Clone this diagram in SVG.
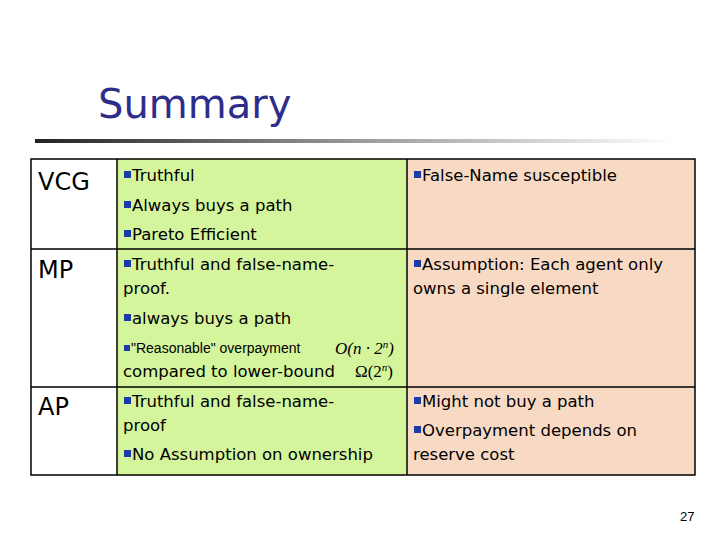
<svg xmlns="http://www.w3.org/2000/svg" width="720" height="540" viewBox="0 0 720 540">
<defs>
<linearGradient id="rule" x1="0" x2="1" y1="0" y2="0"><stop offset="0" stop-color="#222"/><stop offset="0.5" stop-color="#999"/><stop offset="1" stop-color="#fff"/></linearGradient>
</defs>
<style>
text{font-family:"DejaVu Sans",Verdana,sans-serif;font-size:16.5px;fill:#000}
.lab{font-size:24px}
.b{fill:#1a3ba8}
.m{font-family:"Liberation Serif",serif;font-style:italic;font-size:17px}
.g{fill:#d4f59c}.p{fill:#f8dac4}
.ln{stroke:#000;stroke-width:1.5;fill:none}
</style>
<rect width="720" height="540" fill="#fff"/>
<text x="98" y="118" style="font-size:40px;fill:#2e2e8a">Summary</text>
<rect x="35" y="139" width="640" height="4" fill="url(#rule)"/>
<g id="cells">
<rect class="g" x="117" y="159" width="290" height="316"/>
<rect class="p" x="407" y="159" width="288" height="316"/>
</g>
<g id="grid">
<rect class="ln" x="31" y="159" width="664" height="316"/>
<line class="ln" x1="117" y1="159" x2="117" y2="475"/>
<line class="ln" x1="407" y1="159" x2="407" y2="475"/>
<line class="ln" x1="31" y1="249" x2="695" y2="249"/>
<line class="ln" x1="31" y1="387" x2="695" y2="387"/>
</g>
<g id="vcg">
<text class="lab" x="38" y="190">VCG</text>
<rect class="b" x="124" y="171" width="7" height="7"/><text x="132" y="181">Truthful</text>
<rect class="b" x="124" y="201" width="7" height="7"/><text x="132" y="211">Always buys a path</text>
<rect class="b" x="124" y="230" width="7" height="7"/><text x="132" y="240">Pareto Efficient</text>
<rect class="b" x="414" y="171" width="7" height="7"/><text x="422" y="181">False-Name susceptible</text>
</g>
<g id="mp">
<text class="lab" x="38" y="278">MP</text>
<rect class="b" x="124" y="260" width="7" height="7"/><text x="132" y="270">Truthful and false-name-</text>
<text x="123" y="294">proof.</text>
<rect class="b" x="124" y="314" width="7" height="7"/><text x="132" y="324">always buys a path</text>
<rect class="b" x="124" y="345" width="6" height="6"/><text x="131" y="353" style="font-family:'Liberation Sans',Arial,sans-serif;font-size:14px">"Reasonable" overpayment</text>
<text class="m" x="335" y="354">O(n · 2<tspan dy="-6" font-size="11">n</tspan><tspan dy="6">)</tspan></text>
<text x="123" y="377">compared to lower-bound</text>
<text x="355" y="377" style="font-family:'Liberation Serif',serif;font-size:17px">Ω(2<tspan dy="-6" font-size="11" font-style="italic">n</tspan><tspan dy="6">)</tspan></text>
<rect class="b" x="414" y="260" width="7" height="7"/><text x="422" y="270">Assumption: Each agent only</text>
<text x="413" y="294">owns a single element</text>
</g>
<g id="ap">
<text class="lab" x="38" y="415">AP</text>
<rect class="b" x="124" y="397" width="7" height="7"/><text x="132" y="407">Truthful and false-name-</text>
<text x="123" y="431">proof</text>
<rect class="b" x="124" y="450" width="7" height="7"/><text x="132" y="460">No Assumption on ownership</text>
<rect class="b" x="414" y="397" width="7" height="7"/><text x="422" y="407">Might not buy a path</text>
<rect class="b" x="414" y="426" width="7" height="7"/><text x="422" y="436">Overpayment depends on</text>
<text x="413" y="460">reserve cost</text>
</g>
<text x="680" y="521" style="font-family:'Liberation Sans',Arial,sans-serif;font-size:13px">27</text>
</svg>
